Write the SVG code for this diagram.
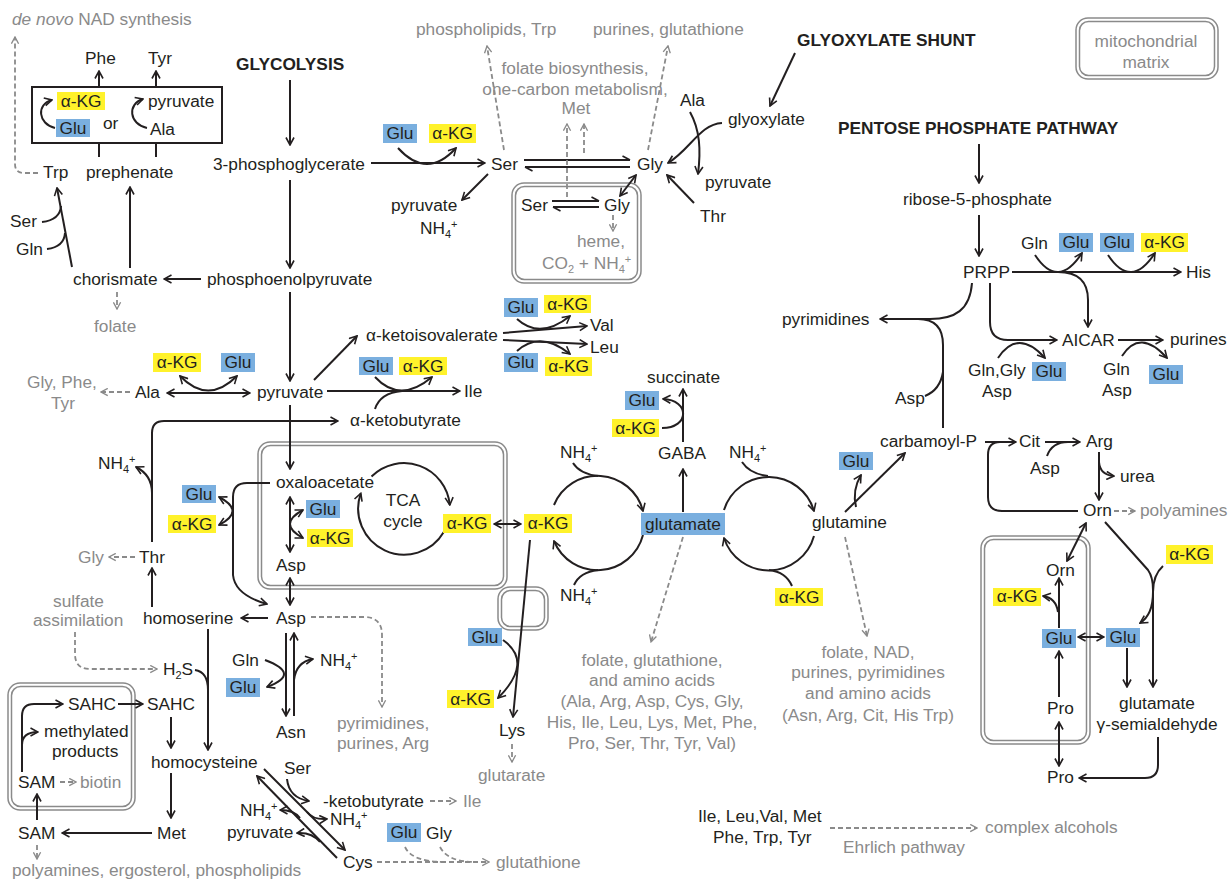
<svg xmlns="http://www.w3.org/2000/svg" width="1229" height="881" viewBox="0 0 1229 881">
<style>
text{font-family:"Liberation Sans",Arial,Helvetica,sans-serif;font-size:17.3px;fill:#231f20}
.g{fill:#8a8a8a}
.b{font-weight:bold}
.y{fill:#fff22b}
.u{fill:#7aafdf}
.m{text-anchor:middle}
.c{fill:none;stroke:#231f20;stroke-width:2}
.d{fill:none;stroke:#8a8a8a;stroke-width:1.8;stroke-dasharray:5 3}
.e{marker-end:url(#ah)}
.s{marker-start:url(#ah)}
.ge{marker-end:url(#ag)}
.h{marker-end:url(#hp)}
.mo{fill:none;stroke:#8a8a8a;stroke-width:1.5}
.sm{font-size:11px}
</style>
<defs>
<marker id="ah" viewBox="0 0 10 10" refX="9" refY="5" markerWidth="10" markerHeight="10" markerUnits="userSpaceOnUse" orient="auto-start-reverse"><path d="M1.5,1 L9,5 L1.5,9" fill="none" stroke="#231f20" stroke-width="1.6"/></marker>
<marker id="ag" viewBox="0 0 10 10" refX="9" refY="5" markerWidth="9" markerHeight="9" markerUnits="userSpaceOnUse" orient="auto-start-reverse"><path d="M1.5,1 L9,5 L1.5,9" fill="none" stroke="#8a8a8a" stroke-width="1.5"/></marker>
<marker id="hp" viewBox="0 0 10 10" refX="9" refY="5" markerWidth="10" markerHeight="10" markerUnits="userSpaceOnUse" orient="auto"><path d="M1.5,1 L9,5" fill="none" stroke="#231f20" stroke-width="1.6"/></marker>
</defs>
<rect width="1229" height="881" fill="#fff"/>

<!-- mitochondrial compartments -->
<g id="mito-legend"><rect x="1076" y="18" width="142" height="61" rx="12" class="mo"/><rect x="1079.5" y="21.5" width="135" height="54" rx="9" class="mo"/><text x="1146" y="47" class="g m">mitochondrial</text><text x="1146" y="68" class="g m">matrix</text></g>
<g id="mito-sergly"><rect x="512" y="183" width="129" height="100" rx="12" class="mo"/><rect x="515.5" y="186.5" width="122" height="93" rx="9" class="mo"/></g>
<g id="mito-tca"><rect x="258" y="442" width="249" height="147" rx="12" class="mo"/><rect x="261.5" y="445.5" width="242" height="140" rx="9" class="mo"/></g>
<g id="mito-lys"><rect x="498" y="587" width="50" height="43" rx="12" class="mo"/><rect x="501.5" y="590.5" width="43" height="36" rx="9" class="mo"/></g>
<g id="mito-orn"><rect x="981" y="536" width="109" height="208" rx="12" class="mo"/><rect x="984.5" y="539.5" width="102" height="201" rx="9" class="mo"/></g>
<g id="mito-sam"><rect x="8" y="683" width="127" height="127" rx="12" class="mo"/><rect x="11.5" y="686.5" width="120" height="120" rx="9" class="mo"/></g>

<g id="connectors">
<!-- aromatic branch -->
<rect x="32" y="87" width="190" height="56" class="c"/>
<path class="c e" d="M99 87V71"/>
<path class="c e" d="M156 87V71"/>
<path class="c e" d="M55 128C38 124 36 104 52 100"/>
<path class="c e" d="M147 128C129 124 127 104 143 99"/>
<path class="c" d="M99 157V143M156 157V143"/>
<path class="c e" d="M130 268V187"/>
<path class="c e" d="M72 267L57 188"/>
<path class="c" d="M42 222Q60 220 61 206"/>
<path class="c" d="M47 249Q64 247 65 233"/>
<path class="c e" d="M201 279H164"/>
<path class="d ge" d="M38 173H24Q15 173 15 164V37"/>
<path class="d ge" d="M117 292V309"/>
<!-- glycolysis -->
<path class="c e" d="M290 80V145"/>
<path class="c e" d="M290 180V268"/>
<path class="c e" d="M290 292V381"/>
<path class="c e" d="M290 405V469"/>
<!-- serine / glycine -->
<path class="c e" d="M371 163H485"/>
<path class="c e" d="M398 148Q427 180 456 148"/>
<path class="c e" d="M488 174L462 200"/>
<path class="c h" d="M524 160H630"/>
<path class="c h" d="M630 167H525"/>
<path class="d ge" d="M504 150L487 46"/>
<path class="d ge" d="M648 150L668 46"/>
<path class="d ge" d="M567 197V124"/>
<path class="d ge" d="M584 153V124"/>
<path class="c h" d="M552 201H599"/>
<path class="c h" d="M599 207H553"/>
<path class="d ge" d="M613 215V231"/>
<path class="c e s" d="M620 196L636 175"/>
<path class="c e" d="M795 53L770 106"/>
<path class="c e" d="M722 123C700 124 690 150 668 163"/>
<path class="c e" d="M690 112C700 130 701 150 698 174"/>
<path class="c e" d="M694 203L667 175"/>
<!-- pentose phosphate -->
<path class="c e" d="M979 144V183"/>
<path class="c e" d="M979 215V256"/>
<path class="c e" d="M1012 272H1181"/>
<path class="c e" d="M1035 255Q1058 290 1082 253"/>
<path class="c e" d="M1108 255Q1131 290 1155 253"/>
<path class="c e" d="M1058 272Q1088 272 1088 300V327"/>
<path class="c e" d="M990 283V322Q990 340 1008 340H1057"/>
<path class="c e" d="M998 358Q1018 328 1045 358"/>
<path class="c e" d="M1118 340H1163"/>
<path class="c e" d="M1122 356Q1140 328 1167 358"/>
<path class="c e" d="M972 283C970 310 955 319 930 319H880"/>
<path class="c" d="M943 428V345Q943 319 918 319"/>
<path class="c" d="M925 396Q940 390 943 372"/>
<!-- urea cycle / proline -->
<path class="c e" d="M845 512L905 453"/>
<path class="c e" d="M856 507Q852 490 861 475"/>
<path class="c e" d="M985 442H1016"/>
<path class="c" d="M1078 511H1002Q988 511 988 497V455Q988 442 1000 442"/>
<path class="c e" d="M1045 442H1080"/>
<path class="c" d="M1047 456Q1052 442 1068 442"/>
<path class="c e" d="M1099 452V500"/>
<path class="c e" d="M1099 462Q1100 475 1114 476"/>
<path class="d ge" d="M1114 511H1135"/>
<path class="c e s" d="M1086 523L1067 561"/>
<path class="c e" d="M1105 522L1148 570Q1153 577 1153 590V687"/>
<path class="c e" d="M1163 566Q1153 575 1153 592Q1153 615 1140 623"/>
<path class="c e" d="M1127 648V687"/>
<path class="c e" d="M1158 737V765Q1158 778 1145 778H1079"/>
<path class="c e s" d="M1059 722V766"/>
<path class="c e" d="M1059 697V651"/>
<path class="c e" d="M1059 628V578"/>
<path class="c e" d="M1058 612Q1056 598 1043 596"/>
<path class="c e s" d="M1078 637H1104"/>
<!-- pyruvate branches -->
<path class="c" d="M152 542V433Q152 421 164 421"/>
<path class="c e" d="M164 421H338"/>
<path class="c e" d="M152 493Q152 475 136 467"/>
<path class="d ge" d="M135 557H109"/>
<path class="c e" d="M152 607V568"/>
<path class="d ge" d="M130 392H101"/>
<path class="c e s" d="M167 393H250"/>
<path class="c e s" d="M180 376Q208 405 237 376"/>
<path class="c e" d="M314 380L357 336"/>
<path class="c e" d="M503 333L587 326"/>
<path class="c e" d="M503 340L587 344"/>
<path class="c e" d="M517 319Q540 340 570 316"/>
<path class="c e" d="M517 351Q540 330 570 354"/>
<path class="c e" d="M327 391H460"/>
<path class="c e" d="M375 377Q400 404 432 377"/>
<path class="c" d="M375 409Q380 393 402 391"/>
<!-- TCA -->
<path class="c e" d="M371.5 476.5A46 46 0 0 1 449.8 505"/>
<path class="c e" d="M443.8 532A46 46 0 0 1 360.8 493.3"/>
<path class="c e s" d="M494 524H521"/>
<path class="c e s" d="M290 497V552"/>
<path class="c e s" d="M303 510Q277 524 303 538"/>
<path class="c e s" d="M290 578V605"/>
<path class="c e" d="M270 483H247Q233 483 233 497V575Q235 595 267 604"/>
<path class="c e s" d="M219 497Q246 511 219 525"/>
<!-- aspartate family -->
<path class="c e" d="M268 618H241"/>
<path class="c e" d="M286 633V716"/>
<path class="c e" d="M294 716V633"/>
<path class="c e" d="M265 660Q302 674 267 687"/>
<path class="c e" d="M294 680Q296 662 313 659"/>
<path class="d ge" d="M311 617H364Q382 617 382 635V707"/>
<path class="d ge" d="M75 632V654Q75 669 90 669H157"/>
<path class="c e" d="M208 629V750"/>
<path class="c" d="M195 670Q208 672 208 690"/>
<path class="c e" d="M22 772V716Q22 704 34 704H63"/>
<path class="c e" d="M22 745Q22 732 38 732"/>
<path class="d ge" d="M60 782H76"/>
<path class="c e" d="M118 704H143"/>
<path class="c e" d="M171 717V748"/>
<path class="c e" d="M171 773V818"/>
<path class="c e" d="M152 833H62"/>
<path class="c e" d="M37 820V794"/>
<path class="d ge" d="M37 845V859"/>
<path class="c e" d="M264 769L345 850"/>
<path class="c e" d="M337 858L257 776"/>
<path class="c e" d="M287 779Q289 798 309 801"/>
<path class="c e" d="M307 812Q313 820 327 819"/>
<path class="c e" d="M300 818Q294 810 280 810"/>
<path class="c e" d="M320 842Q312 832 297 833"/>
<path class="d ge" d="M377 862H489"/>
<path class="d" d="M405 847Q412 862 445 862"/>
<path class="d" d="M440 847Q448 862 475 862"/>
<path class="d ge" d="M430 801H456"/>
<!-- lysine -->
<path class="c e" d="M530 540L513 717"/>
<path class="c e" d="M503 640Q534 662 498 698"/>
<path class="d ge" d="M512 744V762"/>
<!-- glutamate cycles -->
<path class="c e" d="M554 505A47 47 0 0 1 643 511"/>
<path class="c e" d="M643 535A47 47 0 0 1 554 541"/>
<path class="c" d="M573 463Q580 474 598 476"/>
<path class="c" d="M598 570Q580 572 574 585"/>
<path class="c e" d="M724 510A47 47 0 0 1 814 511"/>
<path class="c e" d="M814 536A47 47 0 0 1 724 538"/>
<path class="c" d="M742 462Q750 474 768 476"/>
<path class="c" d="M792 586Q786 572 769 570"/>
<path class="c e" d="M683 512V469"/>
<path class="c e" d="M683 442V389"/>
<path class="c e" d="M662 428C690 428 690 400 663 399"/>
<path class="d ge" d="M683 537L651 642"/>
<path class="d ge" d="M845 537L867 636"/>
<path class="d ge" d="M830 828H977"/>
</g>

<!-- nodes -->
<g id="n-denovo"><text x="12" y="25" class="g"><tspan font-style="italic">de novo</tspan> NAD synthesis</text></g>
<g id="n-phe"><text x="85" y="64">Phe</text></g>
<g id="n-tyr"><text x="148" y="64">Tyr</text></g>
<g id="n-transamination"><rect x="57" y="92" width="48" height="18" class="y"/><text x="81" y="107" class="m">α-KG</text><rect x="56" y="119" width="34" height="18" class="u"/><text x="73" y="134" class="m">Glu</text><text x="103" y="129">or</text><text x="148" y="107">pyruvate</text><text x="150" y="135">Ala</text></g>
<g id="n-trp"><text x="43" y="178">Trp</text></g>
<g id="n-prephenate"><text x="86" y="178">prephenate</text></g>
<g id="n-ser-trp"><text x="10" y="227">Ser</text></g>
<g id="n-gln-trp"><text x="16" y="255">Gln</text></g>
<g id="n-chorismate"><text x="73" y="285">chorismate</text></g>
<g id="n-pep"><text x="207" y="285">phosphoenolpyruvate</text></g>
<g id="n-folate"><text x="94" y="332" class="g">folate</text></g>
<g id="n-glycolysis"><text x="236" y="70" class="b">GLYCOLYSIS</text></g>
<g id="n-3pg"><text x="213" y="170">3-phosphoglycerate</text></g>
<g id="n-pyruvate"><text x="257" y="398">pyruvate</text></g>
<g id="n-ala"><text x="135" y="398">Ala</text></g>
<g id="n-glyphetyr"><text x="27" y="388" class="g">Gly, Phe,</text><text x="51" y="409" class="g">Tyr</text></g>
<g id="n-ala-akg"><rect x="153" y="353" width="48" height="19" class="y"/><text x="177" y="368" class="m">α-KG</text></g>
<g id="n-ala-glu"><rect x="221" y="353" width="34" height="19" class="u"/><text x="238" y="368" class="m">Glu</text></g>

<g id="n-phospholipids"><text x="416" y="35" class="g">phospholipids, Trp</text></g>
<g id="n-purines-gsh"><text x="593" y="35" class="g">purines, glutathione</text></g>
<g id="n-onecarbon"><text x="575" y="74" class="g m">folate biosynthesis,</text><text x="575" y="95" class="g m">one-carbon metabolism,</text><text x="576" y="114" class="g m">Met</text></g>
<g id="n-ser-glu"><rect x="383" y="124" width="34" height="19" class="u"/><text x="400" y="139" class="m">Glu</text></g>
<g id="n-ser-akg"><rect x="429" y="124" width="47" height="19" class="y"/><text x="452.5" y="139" class="m">α-KG</text></g>
<g id="n-ser"><text x="491" y="170">Ser</text></g>
<g id="n-ser-products"><text x="391" y="211">pyruvate</text><text x="420" y="234">NH<tspan class="sm" dy="4">4</tspan><tspan class="sm" dy="-10">+</tspan></text></g>
<g id="n-gly"><text x="637" y="170">Gly</text></g>
<g id="n-mito-ser"><text x="521" y="211">Ser</text></g>
<g id="n-mito-gly"><text x="604" y="211">Gly</text></g>
<g id="n-heme"><text x="577" y="247" class="g">heme,</text><text x="542" y="269" class="g">CO<tspan class="sm" dy="4">2</tspan><tspan dy="-4"> + NH</tspan><tspan class="sm" dy="4">4</tspan><tspan class="sm" dy="-10">+</tspan></text></g>
<g id="n-ala-gx"><text x="680" y="106">Ala</text></g>
<g id="n-glyoxylate"><text x="728" y="125">glyoxylate</text></g>
<g id="n-pyr-gx"><text x="705" y="188">pyruvate</text></g>
<g id="n-thr-gx"><text x="700" y="222">Thr</text></g>
<g id="n-glyoxshunt"><text x="797" y="46" class="b">GLYOXYLATE SHUNT</text></g>

<g id="n-ppp"><text x="838" y="134" class="b">PENTOSE PHOSPHATE PATHWAY</text></g>
<g id="n-r5p"><text x="903" y="205">ribose-5-phosphate</text></g>
<g id="n-prpp"><text x="963" y="278">PRPP</text></g>
<g id="n-his"><text x="1186" y="278">His</text></g>
<g id="n-his-gln"><text x="1021" y="249">Gln</text></g>
<g id="n-his-glu1"><rect x="1059" y="233" width="34" height="19" class="u"/><text x="1076" y="248" class="m">Glu</text></g>
<g id="n-his-glu2"><rect x="1100" y="233" width="34" height="19" class="u"/><text x="1117" y="248" class="m">Glu</text></g>
<g id="n-his-akg"><rect x="1141" y="233" width="47" height="19" class="y"/><text x="1164.5" y="248" class="m">α-KG</text></g>
<g id="n-pyrimidines"><text x="782" y="325">pyrimidines</text></g>
<g id="n-aicar"><text x="1062" y="346">AICAR</text></g>
<g id="n-purines"><text x="1170" y="345">purines</text></g>
<g id="n-aicar-in"><text x="968" y="376">Gln,Gly</text><text x="982" y="397">Asp</text></g>
<g id="n-aicar-glu"><rect x="1032" y="362" width="34" height="19" class="u"/><text x="1049" y="377" class="m">Glu</text></g>
<g id="n-pur-in"><text x="1103" y="375">Gln</text><text x="1102" y="396">Asp</text></g>
<g id="n-pur-glu"><rect x="1149" y="365" width="34" height="19" class="u"/><text x="1166" y="380" class="m">Glu</text></g>
<g id="n-asp-pyr"><text x="895" y="404">Asp</text></g>
<g id="n-carbamoyl"><text x="880" y="447">carbamoyl-P</text></g>
<g id="n-cit"><text x="1019" y="447">Cit</text></g>
<g id="n-arg"><text x="1086" y="447">Arg</text></g>
<g id="n-asp-cit"><text x="1030" y="474">Asp</text></g>
<g id="n-urea"><text x="1120" y="482">urea</text></g>
<g id="n-orn"><text x="1083" y="516">Orn</text></g>
<g id="n-polyamines"><text x="1140" y="516" class="g">polyamines</text></g>
<g id="n-orn-akg"><rect x="1166" y="545" width="47" height="19" class="y"/><text x="1189.5" y="560" class="m">α-KG</text></g>
<g id="n-mito-orn"><text x="1046" y="576">Orn</text></g>
<g id="n-mito-orn-akg"><rect x="993" y="588" width="48" height="18" class="y"/><text x="1017" y="602" class="m">α-KG</text></g>
<g id="n-mito-glu"><rect x="1042" y="629" width="34" height="19" class="u"/><text x="1059" y="644" class="m">Glu</text></g>
<g id="n-cyto-glu"><rect x="1106" y="628" width="34" height="19" class="u"/><text x="1123" y="643" class="m">Glu</text></g>
<g id="n-mito-pro"><text x="1047" y="714">Pro</text></g>
<g id="n-gsa"><text x="1157" y="709" class="m">glutamate</text><text x="1157" y="730" class="m">γ-semialdehyde</text></g>
<g id="n-pro"><text x="1047" y="783">Pro</text></g>

<g id="n-succinate"><text x="647" y="383">succinate</text></g>
<g id="n-gaba-glu"><rect x="625" y="391" width="34" height="19" class="u"/><text x="642" y="406" class="m">Glu</text></g>
<g id="n-gaba-akg"><rect x="612" y="419" width="47" height="18" class="y"/><text x="635.5" y="434" class="m">α-KG</text></g>
<g id="n-gaba"><text x="658" y="459">GABA</text></g>
<g id="n-nh4-a"><text x="560" y="458">NH<tspan class="sm" dy="4">4</tspan><tspan class="sm" dy="-10">+</tspan></text></g>
<g id="n-nh4-b"><text x="729" y="458">NH<tspan class="sm" dy="4">4</tspan><tspan class="sm" dy="-10">+</tspan></text></g>
<g id="n-glutamate"><rect x="641" y="513" width="84" height="22" class="u"/><text x="683" y="530" class="m">glutamate</text></g>
<g id="n-glutamine"><text x="812" y="528">glutamine</text></g>
<g id="n-cp-glu"><rect x="839" y="452" width="34" height="18" class="u"/><text x="856" y="467" class="m">Glu</text></g>
<g id="n-nh4-c"><text x="560" y="601">NH<tspan class="sm" dy="4">4</tspan><tspan class="sm" dy="-10">+</tspan></text></g>
<g id="n-gln-akg"><rect x="775" y="588" width="48" height="18" class="y"/><text x="799" y="603" class="m">α-KG</text></g>
<g id="n-glu-products"><text x="652" y="666" class="g m">folate, glutathione,</text><text x="652" y="686" class="g m">and amino acids</text><text x="652" y="707" class="g m">(Ala, Arg, Asp, Cys, Gly,</text><text x="652" y="728" class="g m">His, Ile, Leu, Lys, Met, Phe,</text><text x="652" y="749" class="g m">Pro, Ser, Thr, Tyr, Val)</text></g>
<g id="n-gln-products"><text x="868" y="658" class="g m">folate, NAD,</text><text x="868" y="678" class="g m">purines, pyrimidines</text><text x="868" y="699" class="g m">and amino acids</text><text x="868" y="721" class="g m">(Asn, Arg, Cit, His Trp)</text></g>

<g id="n-kiv"><text x="366" y="341">α-ketoisovalerate</text></g>
<g id="n-val"><text x="590" y="331">Val</text></g>
<g id="n-leu"><text x="590" y="353">Leu</text></g>
<g id="n-val-glu"><rect x="504" y="298" width="34" height="19" class="u"/><text x="521" y="313" class="m">Glu</text></g>
<g id="n-val-akg"><rect x="544" y="295" width="47" height="18" class="y"/><text x="567.5" y="310" class="m">α-KG</text></g>
<g id="n-leu-glu"><rect x="504" y="353" width="34" height="19" class="u"/><text x="521" y="368" class="m">Glu</text></g>
<g id="n-leu-akg"><rect x="545" y="357" width="47" height="19" class="y"/><text x="568.5" y="372" class="m">α-KG</text></g>
<g id="n-ile-glu"><rect x="359" y="357" width="34" height="18" class="u"/><text x="376" y="372" class="m">Glu</text></g>
<g id="n-ile-akg"><rect x="399" y="357" width="48" height="18" class="y"/><text x="423" y="372" class="m">α-KG</text></g>
<g id="n-ile"><text x="464" y="397">Ile</text></g>
<g id="n-akb"><text x="350" y="426">α-ketobutyrate</text></g>

<g id="n-oaa"><text x="276" y="488">oxaloacetate</text></g>
<g id="n-tca"><text x="403" y="506" class="m">TCA</text><text x="403" y="527" class="m">cycle</text></g>
<g id="n-mito-asp-glu"><rect x="306" y="500" width="34" height="18" class="u"/><text x="323" y="515" class="m">Glu</text></g>
<g id="n-mito-asp-akg"><rect x="307" y="529" width="46" height="18" class="y"/><text x="330" y="544" class="m">α-KG</text></g>
<g id="n-mito-asp"><text x="276" y="571">Asp</text></g>
<g id="n-mito-akg"><rect x="443" y="514" width="48" height="19" class="y"/><text x="467" y="529" class="m">α-KG</text></g>
<g id="n-cyto-akg"><rect x="524" y="514" width="48" height="19" class="y"/><text x="548" y="529" class="m">α-KG</text></g>

<g id="n-nh4-thr"><text x="98" y="469">NH<tspan class="sm" dy="4">4</tspan><tspan class="sm" dy="-10">+</tspan></text></g>
<g id="n-thr"><text x="139" y="563">Thr</text></g>
<g id="n-gly-thr"><text x="78" y="563" class="g">Gly</text></g>
<g id="n-asp-glu"><rect x="182" y="485" width="34" height="18" class="u"/><text x="199" y="500" class="m">Glu</text></g>
<g id="n-asp-akg"><rect x="168" y="515" width="48" height="18" class="y"/><text x="192" y="530" class="m">α-KG</text></g>
<g id="n-homoserine"><text x="143" y="624">homoserine</text></g>
<g id="n-asp"><text x="276" y="624">Asp</text></g>
<g id="n-sulfate"><text x="53" y="607" class="g">sulfate</text><text x="33" y="626" class="g">assimilation</text></g>
<g id="n-h2s"><text x="163" y="675">H<tspan class="sm" dy="4">2</tspan><tspan dy="-4">S</tspan></text></g>
<g id="n-asn-gln"><text x="232" y="666">Gln</text></g>
<g id="n-asn-glu"><rect x="226" y="678" width="34" height="19" class="u"/><text x="243" y="693" class="m">Glu</text></g>
<g id="n-nh4-asn"><text x="320" y="666">NH<tspan class="sm" dy="4">4</tspan><tspan class="sm" dy="-10">+</tspan></text></g>
<g id="n-asn"><text x="276" y="738">Asn</text></g>
<g id="n-asp-products"><text x="337" y="729" class="g">pyrimidines,</text><text x="337" y="749" class="g">purines, Arg</text></g>
<g id="n-mito-sahc"><text x="68" y="710">SAHC</text></g>
<g id="n-methylated"><text x="44" y="737">methylated</text><text x="52" y="757">products</text></g>
<g id="n-mito-sam"><text x="18" y="788">SAM</text></g>
<g id="n-biotin"><text x="80" y="788" class="g">biotin</text></g>
<g id="n-sahc"><text x="147" y="710">SAHC</text></g>
<g id="n-homocysteine"><text x="151" y="768">homocysteine</text></g>
<g id="n-met"><text x="157" y="839">Met</text></g>
<g id="n-sam"><text x="18" y="839">SAM</text></g>
<g id="n-sam-products"><text x="12" y="876" class="g">polyamines, ergosterol, phospholipids</text></g>
<g id="n-ser-cys"><text x="284" y="774">Ser</text></g>
<g id="n-nh4-cys-l"><text x="240" y="816">NH<tspan class="sm" dy="4">4</tspan><tspan class="sm" dy="-10">+</tspan></text></g>
<g id="n-pyr-cys"><text x="227" y="838">pyruvate</text></g>
<g id="n-akb2"><text x="323" y="807">-ketobutyrate</text></g>
<g id="n-ile2"><text x="463" y="807" class="g">Ile</text></g>
<g id="n-nh4-cys-r"><text x="330" y="825">NH<tspan class="sm" dy="4">4</tspan><tspan class="sm" dy="-10">+</tspan></text></g>
<g id="n-gsh-glu"><rect x="387" y="823" width="34" height="19" class="u"/><text x="404" y="838" class="m">Glu</text></g>
<g id="n-gsh-gly"><text x="426" y="839">Gly</text></g>
<g id="n-cys"><text x="343" y="868">Cys</text></g>
<g id="n-glutathione"><text x="496" y="868" class="g">glutathione</text></g>
<g id="n-lys-glu"><rect x="468" y="628" width="34" height="18" class="u"/><text x="485" y="643" class="m">Glu</text></g>
<g id="n-lys-akg"><rect x="447" y="690" width="47" height="18" class="y"/><text x="470.5" y="705" class="m">α-KG</text></g>
<g id="n-lys"><text x="499" y="736">Lys</text></g>
<g id="n-glutarate"><text x="478" y="781" class="g">glutarate</text></g>
<g id="n-ehrlich-aa"><text x="698" y="822">Ile, Leu,Val, Met</text><text x="713" y="843">Phe, Trp, Tyr</text></g>
<g id="n-alcohols"><text x="985" y="833" class="g">complex alcohols</text></g>
<g id="n-ehrlich"><text x="843" y="853" class="g">Ehrlich pathway</text></g>
</svg>
